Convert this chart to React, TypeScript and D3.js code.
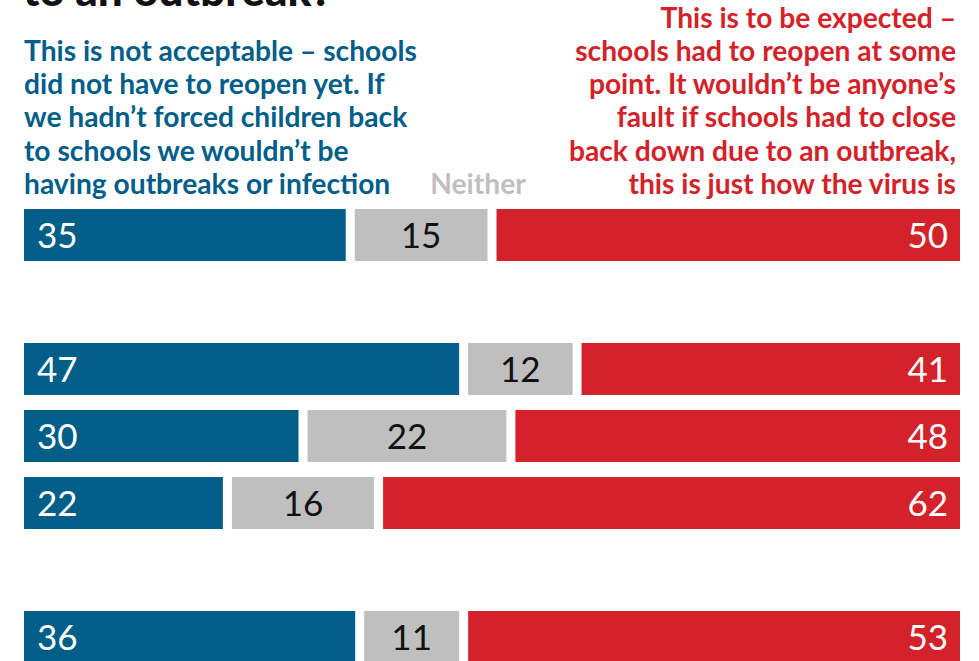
import React from "react";
import * as d3 from "d3";

const W = 979;
const H = 661;

// Row slots (blank slots separate groups)
const slots = ["row1", "gap1", "row2", "row3", "row4", "gap2", "row5"];
const categories = ["row1", "row2", "row3", "row4", "row5"];
const notAcceptable = [35, 47, 30, 22, 36];
const neither = [15, 12, 22, 16, 11];
const expected = [50, 41, 48, 62, 53];

const titleTail = "to an outbreak?";
const leftHeader = [
  "This is not acceptable \u2013 schools",
  "did not have to reopen yet. If",
  "we hadn\u2019t forced children back",
  "to schools we wouldn\u2019t be",
  "having outbreaks or infection",
];
const rightHeader = [
  "This is to be expected \u2013",
  "schools had to reopen at some",
  "point. It wouldn\u2019t be anyone\u2019s",
  "fault if schools had to close",
  "back down due to an outbreak,",
  "this is just how the virus is",
];
const neitherLabel = "Neither";

const BLUE = "#015e89";
const RED = "#d32229";
const GREY = "#bfbfbf";
const FONT = "Lato, 'Open Sans', sans-serif";

export default function App() {
  const x = d3.scaleLinear().domain([0, 100]).range([24, 969]);
  const y = d3
    .scaleBand<string>()
    .domain(slots)
    .range([209, 209 + 6 * 67 + 52])
    .paddingInner(15 / 67)
    .paddingOuter(0);
  const gap = 9;
  const bh = y.bandwidth();

  const rows = categories.map((c, i) => {
    const vals = [notAcceptable[i], neither[i], expected[i]];
    let cum = 0;
    const segs = vals.map((v, k) => {
      const x0 = x(cum);
      const x1 = x(cum + v) - gap;
      cum += v;
      return { v, k, x0, x1 };
    });
    return { c, segs, top: y(c) as number };
  });

  const colors = [BLUE, GREY, RED];
  const lineH = 33.3;
  const lastBase = 194;
  const hSize = 28.2;

  return (
    <svg
      width={W}
      height={H}
      style={{ position: "absolute", left: 0, top: 0, background: "#fff" }}
      fontFamily={FONT}
    >
      <text x={23} y={6} fontSize={44} fontWeight={900} fill="#111">
        {titleTail}
      </text>
      {leftHeader.map((t, i) => (
        <text
          key={"l" + i}
          x={24}
          y={lastBase - (leftHeader.length - 1 - i) * lineH}
          fontSize={hSize}
          fontWeight={700}
          fill={BLUE}
        >
          {t}
        </text>
      ))}
      {rightHeader.map((t, i) => (
        <text
          key={"r" + i}
          x={956}
          y={lastBase - (rightHeader.length - 1 - i) * lineH}
          fontSize={hSize}
          fontWeight={700}
          fill={RED}
          textAnchor="end"
        >
          {t}
        </text>
      ))}
      <text
        x={478}
        y={lastBase}
        fontSize={hSize}
        fontWeight={700}
        fill={GREY}
        textAnchor="middle"
      >
        {neitherLabel}
      </text>
      {rows.map((r) => (
        <g key={r.c}>
          {r.segs.map((s) => (
            <rect
              key={s.k}
              x={s.x0}
              y={r.top}
              width={Math.max(0, s.x1 - s.x0)}
              height={bh}
              fill={colors[s.k]}
            />
          ))}
          {r.segs.map((s) => {
            const base = r.top + bh / 2 + 13;
            if (s.k === 0)
              return (
                <text key={"t" + s.k} x={s.x0 + 13} y={base} fontSize={35} fill="#fff">
                  {s.v}
                </text>
              );
            if (s.k === 1)
              return (
                <text
                  key={"t" + s.k}
                  x={(s.x0 + s.x1) / 2}
                  y={base}
                  fontSize={35}
                  fill="#111"
                  textAnchor="middle"
                >
                  {s.v}
                </text>
              );
            return (
              <text
                key={"t" + s.k}
                x={s.x1 - 12}
                y={base}
                fontSize={35}
                fill="#fff"
                textAnchor="end"
              >
                {s.v}
              </text>
            );
          })}
        </g>
      ))}
    </svg>
  );
}
